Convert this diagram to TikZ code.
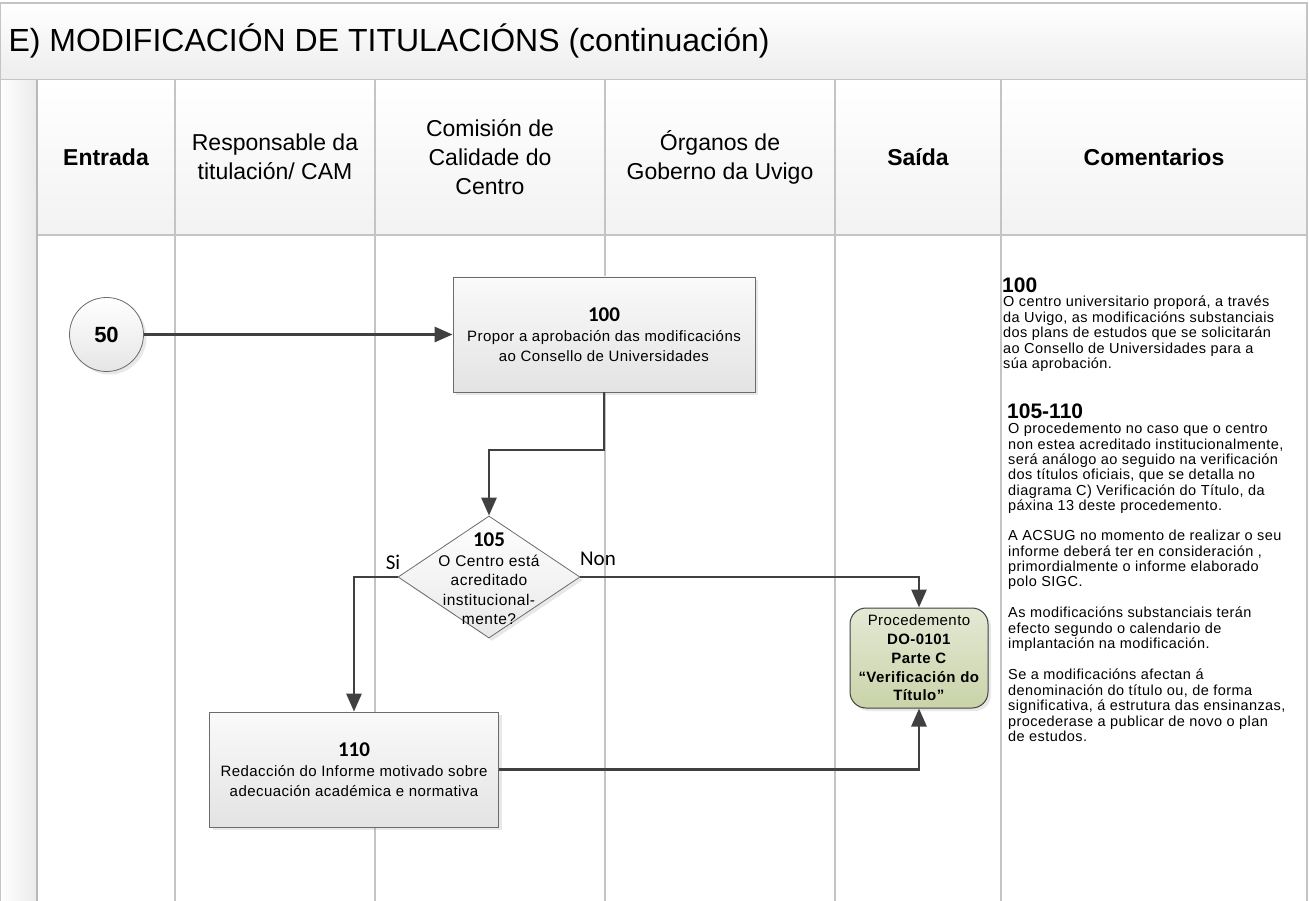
\documentclass[tikz,border=0pt]{standalone}
\usepackage{fontspec}
\setmainfont{Liberation Sans}
\newfontfamily\visfont[LetterSpace=3]{Liberation Sans}
\newfontfamily\calfont{Carlito}
\usetikzlibrary{positioning,arrows.meta,shapes.geometric,shadows}

\definecolor{lanegray}{HTML}{C4C4C4}
\definecolor{flowgray}{HTML}{404040}
\definecolor{boxedge}{HTML}{6B6B6B}
\definecolor{saidatop}{HTML}{E4E9D5}
\definecolor{saidabot}{HTML}{C9D3A8}

\tikzset{
  frame/.style={draw=lanegray, line width=1.6pt},
  head/.style={align=center, font=\fontsize{23}{29}\selectfont},
  headb/.style={align=center, font=\fontsize{23}{29}\selectfont\bfseries},
  boxshadow/.style={drop shadow={opacity=0.18, shadow xshift=3pt, shadow yshift=-3pt}},
  proc/.style={draw=boxedge, line width=0.8pt, top color=black!2, bottom color=black!11,
    boxshadow, minimum width=302pt, minimum height=115pt, align=center,
    font=\visfont\fontsize{15}{20}\selectfont},
  decis/.style={diamond, draw=boxedge, line width=0.8pt, top color=white, bottom color=black!9,
    boxshadow, minimum width=182pt, minimum height=122pt, inner sep=0pt},
  dtext/.style={align=center, font=\visfont\fontsize{15.5}{19.5}\selectfont},
  conn/.style={ellipse, draw=boxedge, line width=0.8pt, top color=white, bottom color=black!10,
    boxshadow, minimum width=74pt, minimum height=74pt, font=\fontsize{22}{26}\selectfont\bfseries},
  outproc/.style={rectangle, rounded corners=16pt, draw=flowgray, line width=1pt,
    top color=saidatop, bottom color=saidabot, boxshadow, minimum width=138pt,
    minimum height=100pt, inner sep=1pt, align=center, font=\visfont\fontsize{15}{18.7}\selectfont},
  flow/.style={draw=flowgray, line width=2.8pt, -{Triangle[length=18pt,width=15pt]}},
  flowlbl/.style={font=\calfont\fontsize{21}{24}\selectfont},
  cmth/.style={anchor=west, inner sep=0pt, font=\fontsize{21}{24}\selectfont\bfseries},
  cmt/.style={anchor=north west, inner sep=0pt, align=left, font=\visfont\fontsize{14.5}{15.4}\selectfont}
}

\begin{document}
\begin{tikzpicture}[x=1pt,y=-1pt]
  \useasboundingbox (0,0) rectangle (1309,901);
  \shade[top color=white, bottom color=black!7] (0,3) rectangle (1307,79);
  \shade[top color=white, bottom color=black!5] (37,80) rectangle (1307,235);
  \shade[left color=white, right color=black!8] (0,80) rectangle (37,901);
  \draw[frame] (0,3) -- (1307,3) -- (1307,901);
  \draw[frame, line width=0.8pt] (0.5,3) -- (0.5,901);
  \draw[frame] (0,79.5) -- (1307,79.5);
  \draw[frame] (37,235) -- (1307,235);
  \draw[frame, line width=2pt, draw=black!28] (37,80) -- (37,901);
  \draw[frame] (175,80) -- (175,901);
  \draw[frame] (375,80) -- (375,901);
  \draw[frame] (605,80) -- (605,901);
  \draw[frame] (835,80) -- (835,901);
  \draw[frame] (1001,80) -- (1001,901);

  \node[anchor=west, font=\fontsize{32}{38}\selectfont] (title) at (5,41)
    {E) MODIFICACIÓN DE TITULACIÓNS (continuación)};

  \node[headb] (hentrada) at (106,157) {Entrada};
  \node[head] (hresp) at (275,157) {Responsable da\\titulación/ CAM};
  \node[head] (hcom) at (490,157) {Comisión de\\Calidade do\\Centro};
  \node[head] (horg) at (720,157) {Órganos de\\Goberno da Uvigo};
  \node[headb] (hsaida) at (918,157) {Saída};
  \node[headb] (hcoment) at (1154,157) {Comentarios};

  \node[conn] (n50) at (106.5,334.5) {50};
  \node[proc] (p100) at (604,334.5)
    {{\calfont\bfseries\fontsize{21}{23}\selectfont 100}\\
     Propor a aprobación das modificacións\\ao Consello de Universidades};
  \coordinate (k1) at (604,450);
  \node[decis] (d105) at (489,577) {};
  \node[dtext] (d105t) at (489,579)
    {{\calfont\bfseries\fontsize{21}{23}\selectfont 105}\\O Centro está\\acreditado\\institucional-\\mente?};
  \node[proc, minimum width=289pt] (p110) at (354,769.5)
    {{\calfont\bfseries\fontsize{21}{23}\selectfont 110}\\
     Redacción do Informe motivado sobre\\adecuación académica e normativa};
  \node[outproc] (do0101) at (919,658)
    {Procedemento\\\textbf{DO-0101}\\\textbf{Parte C}\\\textbf{“Verificación do}\\\textbf{Título”}};

  \draw[flow] (n50.east) -- (p100.west);
  \draw[flow] (p100.south) -- (k1) -| (d105.north);
  \draw[flow] (d105.west) -| (p110.north);
  \draw[flow] (d105.east) -| (do0101.north);
  \draw[flow] (p110.east) -| (do0101.south);
  \node[flowlbl] (lsi) at (393,562) {Si};
  \node[flowlbl] (lnon) at (598,559) {Non};

  \node[cmth] (cm100h) at (1002,285) {100};
  \node[cmt] (cm100t) at (1003,296)
    {O centro universitario proporá, a través\\da Uvigo, as modificacións substanciais\\dos plans de estudos que se solicitarán\\ao Consello de Universidades para a\\súa aprobación.};
  \node[cmth] (cm105h) at (1007,411) {105-110};
  \node[cmt] (cm105a) at (1008,423)
    {O procedemento no caso que o centro\\non estea acreditado institucionalmente,\\será análogo ao seguido na verificación\\dos títulos oficiais, que se detalla no\\diagrama C) Verificación do Título, da\\páxina 13 deste procedemento.};
  \node[cmt] (cm105b) at (1008,530)
    {A ACSUG no momento de realizar o seu\\informe deberá ter en consideración ,\\primordialmente o informe elaborado\\polo SIGC.};
  \node[cmt] (cm105c) at (1008,607)
    {As modificacións substanciais terán\\efecto segundo o calendario de\\implantación na modificación.};
  \node[cmt] (cm105d) at (1008,669)
    {Se a modificacións afectan á\\denominación do título ou, de forma\\significativa, á estrutura das ensinanzas,\\procederase a publicar de novo o plan\\de estudos.};
\end{tikzpicture}
\end{document}
